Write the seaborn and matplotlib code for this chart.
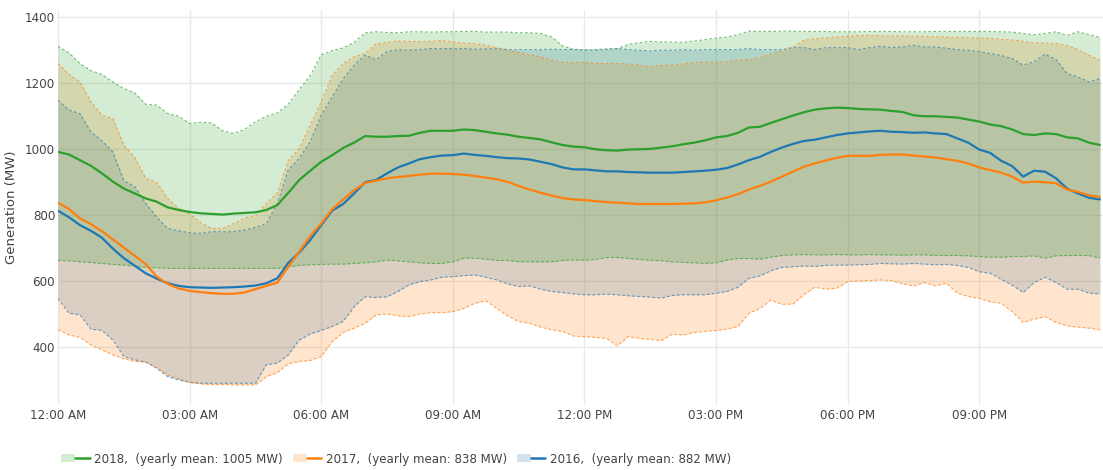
import numpy as np
import matplotlib
matplotlib.use("Agg")
import matplotlib.pyplot as plt
import seaborn as sns
from matplotlib.patches import Patch
from matplotlib.lines import Line2D
from matplotlib.legend_handler import HandlerTuple

# ---------------- data (MW, 15-minute steps from 00:00) ----------------
hours = np.arange(96) * 0.25

years = ["2018", "2017", "2016"]
yearly_means = [1005, 838, 882]

mean_2018 = [991, 983, 966, 949, 926, 901, 880, 865, 850, 840, 823, 815, 809, 805, 803, 801,
             804, 806, 808, 815, 830, 867, 906, 934, 961, 981, 1003, 1019, 1039, 1037, 1037, 1039,
             1040, 1049, 1055, 1055, 1055, 1059, 1057, 1052, 1047, 1043, 1037, 1033, 1029, 1020, 1012, 1007,
             1005, 999, 996, 995, 998, 999, 1000, 1004, 1008, 1014, 1019, 1026, 1035, 1039, 1049, 1065,
             1067, 1079, 1090, 1101, 1111, 1119, 1123, 1125, 1124, 1121, 1120, 1119, 1115, 1112, 1102, 1099,
             1099, 1097, 1095, 1089, 1083, 1074, 1069, 1059, 1045, 1042, 1047, 1045, 1035, 1032, 1019, 1012]
hi_2018 = [1311, 1291, 1259, 1237, 1226, 1203, 1183, 1170, 1135, 1133, 1107, 1099, 1077, 1081, 1079, 1055,
           1047, 1059, 1082, 1099, 1109, 1136, 1180, 1222, 1285, 1298, 1306, 1323, 1352, 1355, 1353, 1352,
           1355, 1355, 1354, 1355, 1355, 1356, 1356, 1354, 1354, 1354, 1352, 1352, 1350, 1340, 1312, 1302,
           1301, 1299, 1301, 1304, 1317, 1322, 1326, 1324, 1324, 1323, 1327, 1331, 1336, 1339, 1346, 1357,
           1356, 1356, 1357, 1357, 1356, 1356, 1356, 1355, 1355, 1355, 1356, 1356, 1356, 1355, 1355, 1355,
           1356, 1356, 1356, 1356, 1356, 1356, 1355, 1354, 1350, 1346, 1350, 1355, 1344, 1355, 1346, 1338]
lo_2018 = [662, 661, 658, 656, 653, 650, 648, 645, 641, 640, 638, 638, 638, 638, 638, 638,
           638, 638, 638, 638, 638, 643, 647, 649, 650, 651, 651, 653, 655, 658, 663, 661,
           658, 655, 653, 653, 658, 669, 669, 666, 662, 662, 658, 658, 658, 658, 662, 664,
           663, 665, 671, 671, 668, 665, 663, 661, 658, 656, 655, 653, 655, 663, 668, 668,
           666, 672, 677, 679, 680, 679, 679, 680, 679, 679, 680, 679, 679, 678, 679, 679,
           677, 677, 677, 676, 674, 672, 672, 674, 674, 676, 669, 676, 677, 677, 677, 669]

mean_2017 = [837, 818, 790, 772, 751, 726, 701, 676, 651, 613, 591, 577, 570, 566, 563, 561,
             561, 565, 575, 585, 595, 643, 689, 736, 774, 817, 847, 875, 897, 904, 911, 915,
             918, 922, 925, 925, 924, 922, 918, 913, 908, 900, 888, 877, 867, 859, 851, 847,
             845, 842, 839, 837, 835, 833, 833, 833, 833, 834, 835, 838, 844, 853, 863, 877,
             888, 901, 916, 931, 946, 956, 965, 973, 979, 979, 979, 982, 983, 983, 980, 977,
             974, 969, 964, 956, 944, 936, 928, 916, 898, 901, 899, 896, 877, 870, 859, 855]
hi_2017 = [1259, 1226, 1203, 1143, 1102, 1092, 1012, 974, 911, 899, 850, 820, 803, 777, 759, 759,
           774, 790, 797, 835, 867, 966, 1002, 1072, 1143, 1223, 1259, 1279, 1289, 1319, 1323, 1327,
           1326, 1325, 1326, 1329, 1324, 1321, 1319, 1314, 1307, 1299, 1292, 1286, 1279, 1269, 1263, 1261,
           1263, 1259, 1259, 1259, 1257, 1254, 1249, 1253, 1254, 1257, 1261, 1264, 1262, 1264, 1269, 1271,
           1277, 1287, 1297, 1309, 1329, 1334, 1337, 1339, 1342, 1343, 1344, 1343, 1342, 1342, 1342, 1341,
           1340, 1339, 1338, 1337, 1336, 1335, 1332, 1330, 1326, 1322, 1321, 1319, 1314, 1301, 1284, 1269]
lo_2017 = [452, 436, 429, 406, 391, 376, 364, 356, 354, 336, 315, 304, 292, 288, 286, 286,
           285, 285, 285, 310, 322, 349, 356, 359, 371, 416, 444, 457, 472, 497, 500, 494,
           492, 500, 504, 504, 507, 517, 532, 540, 517, 494, 477, 472, 460, 452, 447, 433,
           431, 429, 426, 403, 431, 426, 423, 419, 439, 436, 444, 447, 450, 454, 462, 502,
           517, 542, 529, 530, 558, 581, 575, 578, 598, 600, 601, 603, 601, 591, 585, 595,
           585, 593, 563, 553, 547, 537, 532, 507, 474, 484, 492, 474, 464, 460, 457, 452]

mean_2016 = [813, 793, 769, 752, 731, 698, 669, 646, 623, 607, 593, 585, 581, 580, 579, 580,
             581, 583, 586, 593, 608, 655, 686, 724, 769, 813, 833, 865, 899, 906, 926, 944,
             956, 969, 975, 980, 981, 986, 982, 979, 975, 972, 971, 968, 961, 954, 944, 938,
             938, 935, 932, 932, 930, 929, 928, 928, 928, 930, 932, 934, 937, 942, 953, 966,
             976, 991, 1004, 1015, 1024, 1028, 1035, 1042, 1047, 1050, 1053, 1055, 1052, 1051, 1049, 1050,
             1047, 1045, 1032, 1019, 998, 988, 964, 948, 916, 934, 931, 911, 880, 865, 852, 847]
hi_2016 = [1148, 1118, 1107, 1052, 1025, 991, 904, 886, 835, 793, 759, 752, 746, 744, 749, 749,
           749, 754, 762, 774, 835, 936, 971, 1022, 1102, 1158, 1213, 1254, 1284, 1270, 1295, 1301,
           1299, 1301, 1304, 1304, 1304, 1304, 1302, 1303, 1304, 1301, 1301, 1301, 1301, 1302, 1301, 1301,
           1299, 1301, 1303, 1304, 1301, 1299, 1297, 1299, 1299, 1301, 1299, 1301, 1301, 1301, 1301, 1304,
           1301, 1301, 1301, 1307, 1307, 1301, 1307, 1307, 1307, 1301, 1307, 1311, 1307, 1309, 1314, 1309,
           1309, 1305, 1301, 1299, 1295, 1289, 1283, 1274, 1254, 1264, 1287, 1271, 1228, 1218, 1203, 1213]
lo_2016 = [547, 502, 497, 454, 450, 421, 371, 361, 354, 336, 310, 300, 293, 290, 290, 290,
           290, 290, 290, 346, 351, 376, 421, 439, 450, 462, 477, 522, 552, 550, 552, 568,
           588, 598, 603, 611, 613, 616, 618, 611, 603, 591, 583, 585, 575, 568, 565, 561,
           558, 558, 560, 558, 555, 553, 551, 548, 556, 558, 558, 558, 563, 568, 581, 608,
           615, 631, 641, 643, 645, 644, 647, 648, 648, 649, 650, 653, 652, 651, 653, 651,
           649, 650, 647, 641, 628, 623, 605, 587, 565, 595, 611, 595, 575, 575, 563, 561]

tick_hours = [0, 3, 6, 9, 12, 15, 18, 21]
tick_labels = ["12:00 AM", "03:00 AM", "06:00 AM", "09:00 AM",
               "12:00 PM", "03:00 PM", "06:00 PM", "09:00 PM"]
y_ticks = [400, 600, 800, 1000, 1200, 1400]

colors = {"2018": "#2ca02c", "2017": "#ff7f0e", "2016": "#1f77b4"}
series = {
    "2018": (mean_2018, lo_2018, hi_2018),
    "2017": (mean_2017, lo_2017, hi_2017),
    "2016": (mean_2016, lo_2016, hi_2016),
}

# ---------------- figure ----------------
sns.set_theme(style="white")
plt.rcParams["font.family"] = ["DejaVu Sans"]

W, H = 1103, 470
fig = plt.figure(figsize=(W / 100, H / 100), dpi=100)
ax = fig.add_axes([58 / W, 1 - 405 / H, (W - 58) / W, (405 - 10) / H])

FILL_ALPHA = 0.2
for yr in ["2016", "2017", "2018"]:
    m, lo, hi = series[yr]
    c = colors[yr]
    ax.fill_between(hours, lo, hi, color=c, alpha=FILL_ALPHA, linewidth=0, zorder=2)
    for edge in (lo, hi):
        sns.lineplot(x=hours, y=edge, ax=ax, color=c, alpha=0.65, linewidth=0.8,
                     linestyle=(0, (2.5, 2)), zorder=3)
    sns.lineplot(x=hours, y=m, ax=ax, color=c, linewidth=1.6, zorder=4)

ax.set_xlim(0, (W - 58) / 43.87)
ax.set_ylim(224, 1421)
ax.set_xticks(tick_hours)
ax.set_xticklabels(tick_labels)
ax.set_yticks(y_ticks)
ax.set_yticklabels([str(v) for v in y_ticks])
ax.grid(True, color="#e9e9e9", linewidth=1.0, zorder=0)
ax.set_axisbelow(True)
for s in ax.spines.values():
    s.set_visible(False)
ax.tick_params(axis="both", length=0, labelsize=8.6, colors="#444444")
ax.tick_params(axis="x", pad=3)
ax.tick_params(axis="y", pad=2)
ax.set_xlabel("")
ax.set_ylabel("Generation (MW)", fontsize=9.5, color="#444444")
ax.yaxis.set_label_coords(-40 / (W - 58), 0.5)

# legend: 2018, 2017, 2016
handles, labels = [], []
for yr, ym in zip(years, yearly_means):
    c = colors[yr]
    handles.append((Patch(facecolor=c, alpha=FILL_ALPHA, edgecolor="none"),
                    Line2D([], [], color=c, linewidth=1.8)))
    labels.append(f"{yr},  (yearly mean: {ym} MW)")
fig.legend(handles, labels, ncol=3, loc="center left",
           bbox_to_anchor=(61 / W, 1 - 459 / H), frameon=False,
           fontsize=8.6, labelcolor="#444444", borderpad=0, borderaxespad=0,
           handlelength=2.4, handleheight=0.6, handletextpad=0.4, columnspacing=0.8,
           handler_map={tuple: HandlerTuple(ndivide=None, pad=0)})

fig.savefig("out.png", dpi=100)
